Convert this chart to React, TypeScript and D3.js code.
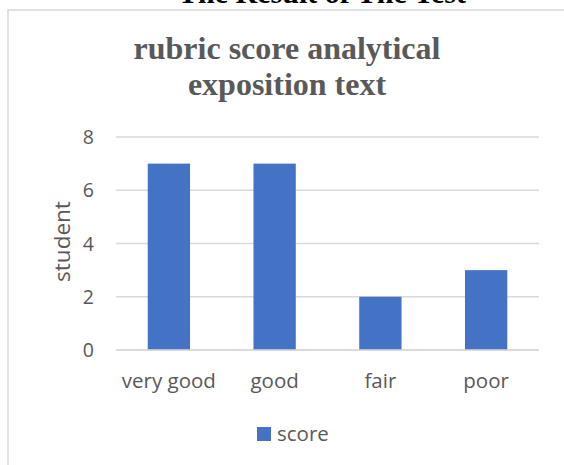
import React from "react";
import * as d3 from "d3";

const categories = ["very good", "good", "fair", "poor"];
const scores = [7, 7, 2, 3];
const yTicks = [0, 2, 4, 6, 8];
const pageTitle = "The Result of The Test";
const chartTitleLines = ["rubric score analytical", "exposition text"];
const yAxisTitle = "student";
const seriesName = "score";

const W = 564;
const H = 465;

export default function App() {
  const x = d3
    .scaleBand<string>()
    .domain(categories)
    .range([116, 539])
    .paddingInner(0.6)
    .paddingOuter(0.3);
  const y = d3.scaleLinear().domain([0, 8]).range([350, 137]);
  const sans = "'Open Sans', 'Noto Sans', sans-serif";
  const serif = "'Liberation Serif', 'Times New Roman', serif";
  return (
    <svg
      width={W}
      height={H}
      style={{ position: "absolute", left: 0, top: 0, display: "block", background: "#fff" }}
    >
      <rect x={0} y={0} width={W} height={H} fill="#fff" />
      <text
        x={322}
        y={3}
        textAnchor="middle"
        fontFamily={serif}
        fontWeight="bold"
        fontSize={30}
        fill="#000"
      >
        {pageTitle}
      </text>
      <rect x={8} y={10} width={W + 20} height={H + 20} fill="#fff" stroke="#d9d9d9" strokeWidth={1.5} />
      {chartTitleLines.map((t, i) => (
        <text
          key={t}
          x={287}
          y={59 + i * 36}
          textAnchor="middle"
          fontFamily={serif}
          fontWeight="bold"
          fontSize={32}
          fill="#595959"
        >
          {t}
        </text>
      ))}
      {yTicks.map((t) => (
        <g key={t}>
          <line x1={116} x2={539} y1={y(t)} y2={y(t)} stroke="#d9d9d9" strokeWidth={1.5} />
          <text
            x={94}
            y={y(t)}
            dy="0.36em"
            textAnchor="end"
            fontFamily={sans}
            fontSize={19.5}
            fill="#595959"
          >
            {t}
          </text>
        </g>
      ))}
      {categories.map((c, i) => (
        <rect
          key={c}
          x={x(c)}
          y={y(scores[i])}
          width={x.bandwidth()}
          height={y(0) - y(scores[i])}
          fill="#4472C4"
        />
      ))}
      <line x1={116} x2={539} y1={y(0)} y2={y(0)} stroke="#d9d9d9" strokeWidth={1.5} />
      {categories.map((c) => (
        <text
          key={c}
          x={(x(c) as number) + x.bandwidth() / 2}
          y={388}
          textAnchor="middle"
          fontFamily={sans}
          fontSize={20.5}
          fill="#595959"
        >
          {c}
        </text>
      ))}
      <text
        transform={`translate(70,241.5) rotate(-90)`}
        textAnchor="middle"
        fontFamily={sans}
        fontSize={22.5}
        fill="#595959"
      >
        {yAxisTitle}
      </text>
      <rect x={257} y={427} width={14} height={14} fill="#4472C4" />
      <text x={277} y={441} fontFamily={sans} fontSize={20.5} fill="#595959">
        {seriesName}
      </text>
    </svg>
  );
}
